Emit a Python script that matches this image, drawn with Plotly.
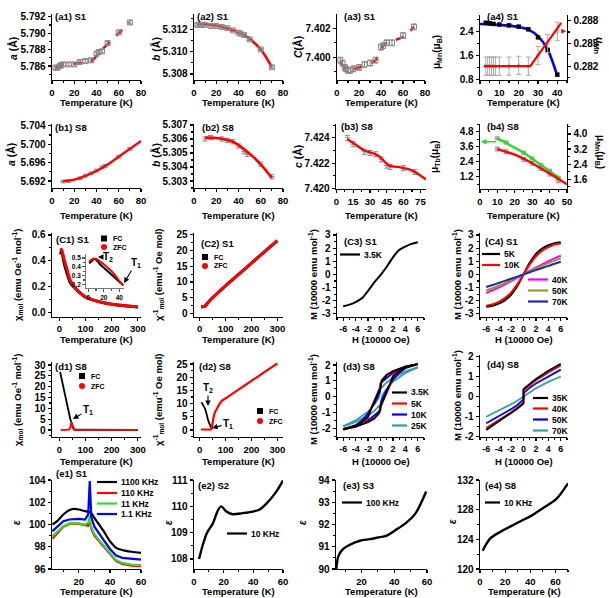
import plotly.graph_objects as go

W, H = 609, 598
FONT = "Liberation Sans"

# ================= DATA =================
# (a1) S1 lattice a
a1_T = [3, 5, 7, 8, 10, 15, 20, 25, 30, 35, 40, 42, 45, 50, 60, 70]
a1_val = [5.7858, 5.7858, 5.7860, 5.7861, 5.7862, 5.7862, 5.7862, 5.7865, 5.7866, 5.7867, 5.7875, 5.7877, 5.7878, 5.7888, 5.7901, 5.7913]
a1_err = [0.0002] * len(a1_T)
a1_fitT = [3, 10, 20, 35, 45, 60, 70]
a1_fit = [5.7858, 5.7861, 5.7863, 5.7866, 5.7880, 5.7900, 5.7913]

# (a2) S1 lattice b
a2_T = [3, 5, 7, 10, 15, 20, 25, 30, 35, 40, 42, 45, 50, 60, 70]
a2_val = [5.3124, 5.3124, 5.3124, 5.3124, 5.3123, 5.3123, 5.3122, 5.3121, 5.3119, 5.3117, 5.3116, 5.3115, 5.3111, 5.3102, 5.3086]
a2_err = [0.0001] * len(a2_T)
a2_fitT = [3, 15, 30, 45, 60, 70]
a2_fit = [5.3125, 5.3124, 5.3121, 5.3115, 5.3102, 5.3086]

# (a3) S1 lattice c
a3_T = [3, 5, 7, 8, 10, 12, 15, 20, 25, 30, 35, 40, 42, 45, 50, 60, 70]
a3_val = [7.3998, 7.3996, 7.3993, 7.3992, 7.3991, 7.3991, 7.3992, 7.3993, 7.3995, 7.3996, 7.3998, 7.4007, 7.4008, 7.4010, 7.4010, 7.4015, 7.4021]
a3_err = [0.0002] * len(a3_T)
a3_fitT = [3, 10, 20, 35, 40, 45, 60, 70]
a3_fit = [7.3997, 7.3991, 7.3993, 7.3998, 7.4006, 7.4010, 7.4014, 7.4021]

# (a4) S1 moments
a4_T = [3, 5, 7, 10, 15, 20, 25, 30, 35, 40]
a4_mu = [2.70, 2.68, 2.66, 2.64, 2.61, 2.57, 2.48, 2.21, 1.79, 0.96]
a4_fitT = [0, 10, 20, 25, 30, 35, 40]
a4_fit = [2.66, 2.63, 2.56, 2.47, 2.25, 1.80, 0.92]
a4_uT = [3, 4, 5, 6, 7, 8, 10, 15, 20, 25, 30, 35, 40]
a4_u = [0.2820, 0.2820, 0.2820, 0.2820, 0.2820, 0.2820, 0.2820, 0.2820, 0.2821, 0.2820, 0.2834, 0.2850, 0.2866]
a4_uerr = [0.0012] * len(a4_uT)
a4_ufitT = [2, 26, 42]
a4_ufit = [0.2820, 0.2820, 0.2877]

# (b1) S8 lattice a
b1_T = [10, 15, 25, 30, 35, 40, 45, 48, 60, 70]
b1_val = [5.6919, 5.6920, 5.6926, 5.6932, 5.6937, 5.6943, 5.6950, 5.6953, 5.6973, 5.6990]
b1_err = [0.0003] * len(b1_T)
b1_fitT = [10, 20, 40, 50, 60, 70, 80]
b1_fit = [5.6920, 5.6923, 5.6942, 5.6956, 5.6973, 5.6990, 5.7007]

# (b2) S8 lattice b
b2_T = [10, 15, 25, 30, 35, 40, 45, 48, 60, 70]
b2_val = [5.3060, 5.3061, 5.3060, 5.3059, 5.3058, 5.3055, 5.3051, 5.3049, 5.3042, 5.3033]
b2_err = [0.00015] * len(b2_T)
b2_fitT = [10, 20, 35, 50, 60, 70]
b2_fit = [5.30610, 5.30607, 5.30580, 5.30495, 5.30418, 5.30322]

# (b3) S8 lattice c
b3_T = [10, 15, 25, 30, 35, 40, 45, 48, 60, 70]
b3_val = [7.4240, 7.4235, 7.4229, 7.4228, 7.4227, 7.4223, 7.4218, 7.4217, 7.4216, 7.4213]
b3_err = [0.0002] * len(b3_T)
b3_fitT = [10, 20, 25, 35, 40, 47, 55, 65, 72, 80]
b3_fit = [7.4239, 7.4233, 7.4230, 7.4227, 7.4224, 7.4218, 7.4217, 7.4215, 7.4212, 7.4207]

# (b4) S8 moments
b4_T = [10, 15, 25, 30, 35, 40, 45]
b4_green = [4.27, 3.95, 3.12, 2.67, 2.13, 1.68, 1.12]
b4_red = [3.20, 3.06, 2.65, 2.44, 2.17, 1.87, 1.51]
b4_gfitT = [10, 25, 35, 46]
b4_gfit = [4.27, 3.14, 2.15, 1.07]
b4_rfitT = [10, 20, 30, 40, 50]
b4_rfit = [3.20, 2.90, 2.45, 1.90, 1.33]

# (C1) S1 chi
c1_T = [5, 8, 10, 15, 20, 30, 40, 50, 60, 80, 100, 125, 150, 200, 250, 300]
c1_zfc = [0.48, 0.49, 0.48, 0.44, 0.40, 0.33, 0.26, 0.22, 0.19, 0.15, 0.12, 0.10, 0.085, 0.065, 0.053, 0.044]
c1_fc = [0.45, 0.48, 0.47, 0.42, 0.37, 0.30, 0.24, 0.21, 0.19, 0.15, 0.12, 0.10, 0.085, 0.065, 0.053, 0.044]
c1in_T = [1, 4, 8, 12, 16, 20, 25, 30, 35, 40, 45]
c1in_zfc = [0.46, 0.48, 0.495, 0.48, 0.455, 0.43, 0.39, 0.35, 0.30, 0.24, 0.19]
c1in_fc = [0.44, 0.46, 0.49, 0.46, 0.42, 0.39, 0.35, 0.31, 0.27, 0.23, 0.19]

# (C2) S1 inverse chi
c2_T = [5, 10, 15, 20, 25, 30, 40, 50, 75, 100, 150, 200, 250, 300]
c2_zfc = [2.1, 2.1, 2.15, 2.3, 2.7, 3.2, 4.2, 5.0, 6.9, 8.8, 12.4, 16.0, 19.6, 23.2]
c2_fc = [2.1, 2.1, 2.15, 2.3, 2.7, 3.2, 4.2, 5.0, 6.9, 8.8, 12.4, 16.0, 19.6, 23.2]

# (C3) S1 M(H) 3.5K
c3_H = [-6, -5, -4, -3, -2, -1, 0, 1, 2, 3, 4, 5, 6]
c3_M = [-2.42, -2.3, -2.1, -1.82, -1.25, -0.6, -0.05, 0.58, 1.3, 1.85, 2.12, 2.32, 2.44]

# (C4) S1 M(H)
c4_H = [-6, -5, -4, -3, -2, -1, 0, 1, 2, 3, 4, 5, 6]
c4_5K = [-2.45, -2.38, -2.22, -1.97, -1.55, -0.88, 0.0, 0.88, 1.55, 1.97, 2.22, 2.38, 2.45]
c4_10K = [-2.38, -2.28, -2.08, -1.8, -1.38, -0.76, 0.0, 0.76, 1.38, 1.8, 2.08, 2.28, 2.36]
c4_40K = [-1.42, -1.22, -1.0, -0.77, -0.53, -0.27, 0.0, 0.27, 0.53, 0.77, 1.0, 1.22, 1.42]
c4_50K = [-1.22, -1.05, -0.86, -0.66, -0.45, -0.23, 0.0, 0.23, 0.45, 0.66, 0.86, 1.05, 1.22]
c4_70K = [-0.96, -0.81, -0.65, -0.49, -0.33, -0.17, 0.0, 0.17, 0.33, 0.49, 0.65, 0.81, 0.96]

# (d1) S8 chi
d1_fcT = [3, 15, 25, 35, 42, 47, 52, 56, 60, 100, 200, 300]
d1_fc = [26.8, 20.0, 14.2, 8.5, 5.0, 3.4, 1.2, 0.3, 0.15, 0.1, 0.1, 0.1]
d1_zfcT = [5, 20, 35, 40, 43, 46, 49, 52, 56, 60, 100, 200, 300]
d1_zfc = [0.1, 0.1, 0.2, 0.6, 2.0, 3.6, 2.2, 0.8, 0.3, 0.15, 0.1, 0.1, 0.1]

# (d2) S8 inverse chi
d2_fcT = [7, 12, 20, 26, 33, 40, 46]
d2_fc = [10.5, 9.6, 8.2, 6.3, 3.6, 1.8, 0.6]
d2_zfcT = [5, 20, 35, 45, 48, 52, 56, 60, 65, 75, 85, 100, 150, 200, 250, 300]
d2_zfc = [0.2, 0.2, 0.2, 0.3, 1.5, 4.0, 5.8, 6.9, 7.8, 9.6, 11.0, 12.0, 15.3, 18.6, 21.9, 25.2]

# (d3) S8 hysteresis loops (descending / ascending branches)
d3_Hd = [6, 4, 2, 1, 0.2, 0, -0.5, -1, -1.5, -2, -3, -4, -6]
d3_Ha = [-6, -4, -2, -1, -0.2, 0, 0.5, 1, 1.5, 2, 3, 4, 6]
d3_35d = [2.05, 1.9, 1.6, 1.35, 1.0, 0.55, 0.15, -0.3, -0.85, -1.25, -1.6, -1.85, -2.05]
d3_35a = [-2.05, -1.9, -1.6, -1.35, -1.0, -0.55, -0.15, 0.3, 0.85, 1.25, 1.6, 1.85, 2.05]
d3_5d = [2.05, 1.9, 1.62, 1.4, 1.05, 0.7, 0.2, -0.2, -0.7, -1.35, -1.68, -1.9, -2.08]
d3_5a = [-2.08, -1.9, -1.62, -1.4, -1.05, -0.7, -0.2, 0.2, 0.7, 1.35, 1.68, 1.9, 2.05]
d3_10Hd = [6, 4, 2, 1, 0.3, 0, -0.1, -0.5, -1, -2, -3, -4, -6]
d3_10Ha = [-6, -4, -2, -1, -0.3, 0, 0.1, 0.5, 1, 2, 3, 4, 6]
d3_10d = [2.05, 1.85, 1.5, 1.2, 0.95, 0.85, 0.3, 0.0, -0.45, -1.05, -1.5, -1.8, -2.05]
d3_10a = [-2.05, -1.85, -1.5, -1.2, -0.95, -0.85, -0.3, 0.0, 0.45, 1.05, 1.5, 1.8, 2.05]
d3_25Hd = [6, 4, 2, 1, 0.3, 0, -0.3, -1, -2, -4, -6]
d3_25Ha = [-6, -4, -2, -1, -0.3, 0, 0.3, 1, 2, 4, 6]
d3_25d = [1.85, 1.6, 1.2, 0.9, 0.62, 0.5, -0.1, -0.5, -0.95, -1.5, -1.88]
d3_25a = [-1.88, -1.6, -1.2, -0.9, -0.62, -0.5, 0.1, 0.5, 0.95, 1.5, 1.85]

# (d4) S8 M(H)
d4_H = [-6, -4, -2, -1, 0, 0, 1, 2, 4, 6]
d4_35K = [-1.68, -1.27, -0.86, -0.62, -0.36, 0.36, 0.62, 0.86, 1.27, 1.62]
d4_40K = [-1.58, -1.19, -0.8, -0.56, -0.3, 0.3, 0.56, 0.8, 1.19, 1.54]
d4_50K = [-1.34, -1.0, -0.64, -0.43, -0.15, 0.15, 0.43, 0.64, 1.0, 1.33]
d4_70K = [-1.02, -0.72, -0.4, -0.22, -0.02, 0.02, 0.22, 0.4, 0.72, 0.99]

# (e1) S1 permittivity
e1_T = [3, 6, 10, 14, 17, 20, 24, 26, 27, 28, 30, 33, 36, 40, 44, 48, 54, 60]
e1_1100 = [100.0, 100.3, 100.9, 101.3, 101.4, 101.35, 101.2, 101.15, 101.1, 101.0, 100.6, 100.0, 99.4, 98.5, 97.9, 97.7, 97.55, 97.45]
e1_110 = [98.75, 99.2, 99.8, 100.05, 100.1, 100.05, 99.95, 99.9, 100.5, 99.6, 99.0, 98.5, 98.0, 97.3, 96.7, 96.45, 96.3, 96.25]
e1_11 = [98.95, 99.35, 99.85, 100.1, 100.15, 100.1, 100.0, 100.15, 100.8, 99.75, 99.15, 98.6, 98.1, 97.4, 96.8, 96.55, 96.4, 96.35]
e1_1p1 = [99.4, 99.8, 100.3, 100.45, 100.5, 100.5, 100.45, 100.9, 103.9, 100.7, 99.8, 99.25, 98.6, 97.8, 97.2, 97.0, 96.9, 96.85]

# (e2) S2
e2_T = [3.4, 6, 8.8, 12.8, 16.2, 18.4, 21.8, 26, 32.8, 39.6, 44, 48.8, 55.5, 60]
e2_eps = [108.0, 108.55, 109.0, 109.36, 109.86, 110.0, 109.8, 109.7, 109.74, 109.8, 109.87, 110.1, 110.56, 110.98]

# (e3) S3
e3_T = [4.6, 5.8, 8.8, 12.9, 19, 25, 31, 35, 41, 47, 53, 59.5]
e3_eps = [90.0, 90.57, 90.9, 91.09, 91.27, 91.34, 91.43, 91.49, 91.76, 92.06, 92.5, 93.48]

# (e4) S8
e4_T = [2.1, 8, 16, 29, 42, 50, 61, 70]
e4_eps = [122.47, 124.1, 125.0, 126.16, 127.3, 128.2, 129.5, 131.55]

# tick labels with plain hyphen minus
H_tickvals = [-6, -4, -2, 0, 2, 4, 6]
H_ticktext = ["-6", "-4", "-2", "0", "2", "4", "6"]
M3_tickvals = [-3, -2, -1, 0, 1, 2, 3]
M3_ticktext = ["-3", "-2", "-1", "0", "1", "2", "3"]
M2_tickvals = [-2, -1, 0, 1, 2]
M2_ticktext = ["-2", "-1", "0", "1", "2"]

# ================= FIGURE =================
fig = go.Figure()
layout_axes = {}
annotations = []
shapes = []

BLACK = "black"
RED = "#ff0000"
GRAY = "#888888"
BLUE = "#0000ff"
GREEN = "#22dd22"
MAGENTA = "#ff00ff"
OLIVE = "#999922"
NAVY = "#2424b0"
TEAL = "#339e9e"


def px(x):
    return x / W


def py(y):
    return 1 - y / H


def tf(size=10):
    return dict(family=FONT, size=size, color="black", weight="bold")


def add_axes(n, xbox, ybox, xr, yr, xdt, ydt, xt0=0, yt0=None, yfmt=None,
             xfmt=None, fs=10, xfs=9.5, lw=1.4, lc="black", xticks=None, yticks=None):
    xk = "xaxis" if n == 1 else f"xaxis{n}"
    yk = "yaxis" if n == 1 else f"yaxis{n}"
    common = dict(showline=True, linecolor=lc, linewidth=lw, ticks="outside",
                  ticklen=3, tickwidth=1.2, tickcolor=lc, showgrid=False,
                  zeroline=False, mirror=False, automargin=False, tickangle=0)
    xa = dict(common, domain=[px(xbox[0]), px(xbox[1])], range=xr, dtick=xdt,
              tick0=xt0, anchor="y" if n == 1 else f"y{n}",
              tickfont=tf(xfs),
              minor=dict(ticks="outside", ticklen=2, tickcolor=lc, dtick=xdt / 2,
                         tick0=xt0, showgrid=False))
    if xticks:
        xa.update(tickmode="array", tickvals=xticks[0], ticktext=xticks[1])
    if xfmt:
        xa["tickformat"] = xfmt
    ya = dict(common, domain=[py(ybox[1]), py(ybox[0])], range=yr, dtick=ydt,
              anchor="x" if n == 1 else f"x{n}", tickfont=tf(fs),
              minor=dict(ticks="outside", ticklen=2, tickcolor=lc, dtick=ydt / 2,
                         showgrid=False))
    if yt0 is not None:
        ya["tick0"] = yt0
        ya["minor"]["tick0"] = yt0
    if yticks:
        ya.update(tickmode="array", tickvals=yticks[0], ticktext=yticks[1])
    if yfmt:
        ya["tickformat"] = yfmt
    layout_axes[xk] = xa
    layout_axes[yk] = ya
    return ("x" if n == 1 else f"x{n}"), ("y" if n == 1 else f"y{n}")


def add_right_axis(n, base_n, yr, ydt, yt0, yfmt=None):
    yk = f"yaxis{n}"
    layout_axes[yk] = dict(showline=True, linecolor="black", linewidth=1.4,
                           ticks="outside", ticklen=3, tickwidth=1.2,
                           tickcolor="black", showgrid=False, zeroline=False,
                           automargin=False,
                           tickfont=tf(10), side="right",
                           overlaying="y" if base_n == 1 else f"y{base_n}",
                           anchor="x" if base_n == 1 else f"x{base_n}",
                           range=yr, dtick=ydt, tick0=yt0,
                           tickformat=yfmt,
                           minor=dict(ticks="outside", ticklen=2, tickcolor="black",
                                      dtick=ydt / 2, tick0=yt0, showgrid=False))
    return f"y{n}"


def line(xa, ya, x, y, color, width=2.2, dash="solid", shape="spline"):
    fig.add_trace(go.Scatter(x=x, y=y, xaxis=xa, yaxis=ya, mode="lines",
                             line=dict(color=color, width=width, dash=dash,
                                       shape=shape, smoothing=0.8),
                             showlegend=False, hoverinfo="skip"))


def errpts(xa, ya, x, y, e, color=GRAY, symbol="square-open", size=5):
    fig.add_trace(go.Scatter(x=x, y=y, xaxis=xa, yaxis=ya, mode="markers",
                             marker=dict(symbol=symbol, size=size, color=color,
                                         line=dict(color=color, width=1)),
                             error_y=dict(type="data", array=e, color=color,
                                          thickness=1, width=2.5),
                             showlegend=False, hoverinfo="skip"))


def text(x, y, s, size=10, xanchor="left", angle=0, yanchor="middle"):
    annotations.append(dict(x=px(x), y=py(y), xref="paper", yref="paper", text=s,
                            showarrow=False, font=tf(size), xanchor=xanchor,
                            yanchor=yanchor, textangle=angle))


def ytitle(x, y, s, size=9.5, angle=-90):
    text(x, y, s, size=size, xanchor="center", angle=angle)


def xtitle(xbox, y, s, size=9.5):
    text((xbox[0] + xbox[1]) / 2, y, s, size=size, xanchor="center")


def leg_line(x0, x1, y, color, label, size=8, width=2.2):
    shapes.append(dict(type="line", xref="paper", yref="paper", x0=px(x0), x1=px(x1),
                       y0=py(y), y1=py(y), line=dict(color=color, width=width)))
    text(x1 + 1.5, y, label, size=size)


def leg_marker(x, y, kind, color, label, size=7):
    r = 3.0
    shapes.append(dict(type="rect" if kind == "sq" else "circle", xref="paper",
                       yref="paper", x0=px(x - r), x1=px(x + r), y0=py(y + r),
                       y1=py(y - r), fillcolor=color, line=dict(color=color, width=0)))
    text(x + 7, y, label, size=size)


def arrow(x, y, tx, ty, s, size=10):
    annotations.append(dict(x=px(x), y=py(y), xref="paper", yref="paper",
                            ax=tx - x, ay=ty - y, text=s, showarrow=True,
                            arrowhead=2, arrowsize=1, arrowwidth=1.1,
                            arrowcolor="black", font=tf(size)))


TT = "Temperature (K)"
HH = "H (10000 Oe)"
MM = "M (10000 emu mol<sup>-1</sup>)"
PL = 9.5  # panel label size
HX = (H_tickvals, H_ticktext)
RA, RB, RC, RD, RE = 102.5, 215.5, 339.5, 461, 591  # x-title rows

# ---------- row a ----------
A1 = ((52, 141), (14, 80))
xa, ya = add_axes(1, *A1, [0, 80], [5.7843, 5.79233], 20, 0.002, yt0=5.786, yfmt=".3f")
line(xa, ya, a1_fitT, a1_fit, RED, 2.6, "dash")
errpts(xa, ya, a1_T, a1_val, a1_err)
text(53, 17, "(a1) S1", PL)
xtitle(A1[0], RA, TT)
ytitle(13, 49, "<i>a</i> (Å)", 10.5)

A2 = ((194, 283), (14, 80))
xa, ya = add_axes(2, *A2, [0, 80], [5.30746, 5.31337], 20, 0.002, yt0=5.308, yfmt=".3f")
line(xa, ya, a2_fitT, a2_fit, RED, 2.6)
errpts(xa, ya, a2_T, a2_val, a2_err)
text(195, 17, "(a2) S1", PL)
xtitle(A2[0], RA, TT)
ytitle(156, 49, "<i>b</i> (Å)", 10.5)

A3 = ((337, 425), (14, 80))
xa, ya = add_axes(3, *A3, [0, 80], [7.39843, 7.40299], 20, 0.002, yt0=7.400, yfmt=".3f")
line(xa, ya, a3_fitT, a3_fit, RED, 2.6, "dash")
errpts(xa, ya, a3_T, a3_val, a3_err)
text(342, 17, "(a3) S1", PL)
xtitle(A3[0], RA, TT)
ytitle(298, 47, "<i>C</i>(Å)", 10.5)

A4 = ((480, 567), (15, 80))
xa, ya = add_axes(4, *A4, [0, 45], [0.78, 2.96], 10, 0.8, yt0=0.8, yfmt=".1f")
ya2 = add_right_axis(21, 4, [0.28018, 0.28874], 0.003, 0.282, ".3f")
line(xa, ya, a4_fitT, a4_fit, BLUE, 2.6)
fig.add_trace(go.Scatter(x=a4_T, y=a4_mu, xaxis=xa, yaxis=ya, mode="markers",
                         marker=dict(symbol="square", size=4.5, color="black"),
                         showlegend=False, hoverinfo="skip"))
errpts(xa, ya2, a4_uT, a4_u, a4_uerr, color="#aaaaaa", symbol="circle-open", size=3)
line(xa, ya2, a4_ufitT, a4_ufit, RED, 2.2, shape="linear")
annotations.append(dict(x=44.5, y=0.2866, xref=xa, yref=ya2, ax=41.5, ay=0.2866,
                        axref=xa, ayref=ya2, showarrow=True, arrowhead=2,
                        arrowsize=0.8, arrowwidth=1.2, arrowcolor=RED, text=""))
text(485, 17, "(a4) S1", PL)
xtitle(A4[0], RA, TT)
ytitle(437, 52, "μ<sub>Mn</sub>(μ<sub>B</sub>)", 10)
ytitle(599, 46, "<i>u</i><sub>Mn</sub>", 10.5, angle=90)

# ---------- row b ----------
B1 = ((52, 141), (124, 188))
xa, ya = add_axes(5, *B1, [0, 80], [5.6905, 5.7044], 20, 0.004, yt0=5.692, yfmt=".3f")
errpts(xa, ya, b1_T, b1_val, b1_err, symbol="line-ew-open", size=4)
line(xa, ya, b1_fitT, b1_fit, RED, 2.4)
text(53, 128, "(b1) S8", PL)
xtitle(B1[0], RB, TT)
ytitle(11, 155, "<i>a</i> (Å)", 10.5)

B2 = ((194, 283), (124, 188))
xa, ya = add_axes(6, *B2, [0, 80], [5.3025, 5.30707], 20, 0.001, yt0=5.303, yfmt=".3f")
errpts(xa, ya, b2_T, b2_val, b2_err, symbol="line-ew-open", size=4)
line(xa, ya, b2_fitT, b2_fit, RED, 2.6)
text(200, 128, "(b2) S8", PL)
xtitle(B2[0], RB, TT)
ytitle(156, 155, "<i>b</i> (Å)", 10.5)

B3 = ((336, 426), (124, 189))
xa, ya = add_axes(7, *B3, [-0.3, 80], [7.41995, 7.4251], 15, 0.002, yt0=7.420, yfmt=".3f")
errpts(xa, ya, b3_T, b3_val, b3_err, symbol="line-ew-open", size=4)
line(xa, ya, b3_fitT, b3_fit, RED, 2.4)
text(339, 127, "(b3) S8", PL)
xtitle(B3[0], RB, TT)
ytitle(298, 157, "<i>c</i> (Å)", 10.5)

B4 = ((480, 567), (124, 189))
xa, ya = add_axes(8, *B4, [0, 50], [0.22, 5.42], 10, 1.2, yt0=1.2, yfmt=".1f")
ya2 = add_right_axis(22, 8, [1.08, 4.53], 0.8, 1.6, ".1f")
errpts(xa, ya, b4_T, b4_green, [0.12] * len(b4_T), symbol="line-ew-open", size=4)
line(xa, ya, b4_gfitT, b4_gfit, GREEN, 2.4, shape="linear")
errpts(xa, ya2, b4_T, b4_red, [0.1] * len(b4_T), symbol="line-ew-open", size=4)
line(xa, ya2, b4_rfitT, b4_rfit, RED, 2.4)
annotations.append(dict(x=0.5, y=4.0, xref=xa, yref=ya, ax=10, ay=4.0,
                        axref=xa, ayref=ya, showarrow=True, arrowhead=2,
                        arrowsize=0.8, arrowwidth=1.4, arrowcolor=GREEN, text=""))
text(485, 127, "(b4) S8", PL)
xtitle(B4[0], RB, TT)
ytitle(435, 157, "μ<sub>Tb</sub>(μ<sub>B</sub>)", 10)
ytitle(600, 152, "μ<sub>Mn</sub>(μ<sub>B</sub>)", 10, angle=90)

# ---------- row c ----------
C1 = ((52, 141), (233, 316.5))
xa, ya = add_axes(9, *C1, [-28, 312], [-0.03, 0.615], 100, 0.2, yfmt=".1f")
line(xa, ya, c1_T, c1_fc, BLACK, 3)
line(xa, ya, c1_T, c1_zfc, RED, 3)
text(54, 240, "(C1) S1", PL)
leg_marker(104, 238.5, "sq", BLACK, "FC")
leg_marker(104, 247, "ci", RED, "ZFC")
xtitle(C1[0], RC, TT)
ytitle(17, 275, "χ<sub>mol</sub> (emu Oe<sup>-1</sup> mol<sup>-1</sup>)", 9.5)
# inset
xi, yi = add_axes(23, (86, 124), (254, 288), [-3, 46], [0.16, 0.545], 20, 0.1,
                  yt0=0.2, yfmt=".1f", fs=6.5, xfs=6.5, lw=0.8, lc="#555555")
line(xi, yi, c1in_T, c1in_fc, BLACK, 2)
line(xi, yi, c1in_T, c1in_zfc, RED, 2)
arrow(98, 257, 108, 257, "T<sub>2</sub>", 10)
arrow(124, 283, 136, 263, "T<sub>1</sub>", 10)

C2 = ((194, 283), (233, 316.5))
xa, ya = add_axes(10, *C2, [-22, 322], [-1.0, 25.6], 100, 5)
line(xa, ya, c2_T, c2_fc, BLACK, 3)
line(xa, ya, c2_T, c2_zfc, RED, 3)
text(199, 243, "(C2) S1", PL)
leg_marker(205, 257, "sq", BLACK, "FC")
leg_marker(205, 266, "ci", RED, "ZFC")
xtitle(C2[0], RC, TT)
ytitle(158, 275, "χ<sup>-1</sup><sub>mol</sub> (emu<sup>-1</sup> Oe mol)", 9.5)

C3 = ((337, 424), (233, 316.5))
xa, ya = add_axes(11, *C3, [-7, 7], [-3.2, 3.15], 2, 1, xt0=0, xfs=9,
                  xticks=HX, yticks=(M3_tickvals, M3_ticktext))
line(xa, ya, c3_H, c3_M, BLACK, 2)
text(342, 241, "(C3) S1", PL)
leg_line(340, 360, 254.5, BLACK, "3.5K", 8.5)
xtitle(C3[0], RC, HH)
ytitle(313, 275, MM, 9.5)

C4 = ((480, 567), (233, 316.5))
xa, ya = add_axes(12, *C4, [-7, 7], [-3.2, 3.15], 2, 1, xt0=0, xfs=9,
                  xticks=HX, yticks=(M3_tickvals, M3_ticktext))
line(xa, ya, c4_H, c4_5K, BLACK, 2)
line(xa, ya, c4_H, c4_10K, RED, 2)
line(xa, ya, c4_H, c4_40K, MAGENTA, 2)
line(xa, ya, c4_H, c4_50K, OLIVE, 2)
line(xa, ya, c4_H, c4_70K, NAVY, 2)
text(483, 241, "(C4) S1", PL)
leg_line(482, 500, 254, BLACK, "5K", 8.5)
leg_line(482, 500, 265, RED, "10K", 8.5)
leg_line(528, 548, 279.5, MAGENTA, "40K", 8.5)
leg_line(528, 548, 290.5, OLIVE, "50K", 8.5)
leg_line(528, 548, 301.5, NAVY, "70K", 8.5)
xtitle(C4[0], RC, HH)
ytitle(457, 275, MM, 9.5)

# ---------- row d ----------
D1 = ((52, 141), (362, 437))
xa, ya = add_axes(13, *D1, [-28, 312], [-3.2, 31.4], 100, 5)
line(xa, ya, d1_fcT, d1_fc, BLACK, 1.8, shape="linear")
line(xa, ya, d1_zfcT, d1_zfc, RED, 1.8)
text(53, 366, "(d1) S8", PL)
leg_marker(82, 376, "sq", BLACK, "FC")
leg_marker(82, 386, "ci", RED, "ZFC")
arrow(73, 419, 88, 410, "T<sub>1</sub>", 10)
xtitle(D1[0], RD, TT)
ytitle(17, 400, "χ<sub>mol</sub> (emu Oe<sup>-1</sup> mol<sup>-1</sup>)", 9.5)

D2 = ((194, 283), (362, 437))
xa, ya = add_axes(14, *D2, [-22, 322], [-2.65, 25.76], 100, 5)
line(xa, ya, d2_fcT, d2_fc, BLACK, 1.8)
line(xa, ya, d2_zfcT, d2_zfc, RED, 2.2)
text(197, 366, "(d2) S8", PL)
leg_marker(260, 411, "sq", BLACK, "FC")
leg_marker(260, 421, "ci", RED, "ZFC")
arrow(208, 406, 208, 388, "T<sub>2</sub>", 10)
arrow(212, 428, 228, 424, "T<sub>1</sub>", 10)
xtitle(D2[0], RD, TT)
ytitle(158, 400, "χ<sup>-1</sup><sub>mol</sub> (emu<sup>-1</sup> Oe mol)", 9.5)

D3 = ((337, 424), (362, 437))
xa, ya = add_axes(15, *D3, [-7, 7], [-2.55, 2.19], 2, 1, xt0=0, xfs=9,
                  xticks=HX, yticks=(M2_tickvals, M2_ticktext))
line(xa, ya, d3_25Hd, d3_25d, TEAL, 1.8, shape="linear")
line(xa, ya, d3_25Ha, d3_25a, TEAL, 1.8, shape="linear")
line(xa, ya, d3_10Hd, d3_10d, BLUE, 1.8, shape="linear")
line(xa, ya, d3_10Ha, d3_10a, BLUE, 1.8, shape="linear")
line(xa, ya, d3_Hd, d3_5d, RED, 1.8, shape="linear")
line(xa, ya, d3_Ha, d3_5a, RED, 1.8, shape="linear")
line(xa, ya, d3_Hd, d3_35d, BLACK, 1.8, shape="linear")
line(xa, ya, d3_Ha, d3_35a, BLACK, 1.8, shape="linear")
text(341, 366, "(d3) S8", PL)
leg_line(392, 407, 392.5, BLACK, "3.5K", 8.5)
leg_line(392, 407, 403.5, RED, "5K", 8.5)
leg_line(392, 407, 414.5, BLUE, "10K", 8.5)
leg_line(392, 407, 425.5, TEAL, "25K", 8.5)
xtitle(D3[0], RD, HH)
ytitle(313, 400, MM, 9.5)

D4 = ((480, 567), (355, 437))
xa, ya = add_axes(16, *D4, [-7, 7], [-2.03, 2.06], 2, 1, xt0=0, xfs=9,
                  xticks=HX, yticks=(M2_tickvals, M2_ticktext))
line(xa, ya, d4_H, d4_70K, TEAL, 1.8, shape="linear")
line(xa, ya, d4_H, d4_50K, BLUE, 1.8, shape="linear")
line(xa, ya, d4_H, d4_40K, RED, 1.8, shape="linear")
line(xa, ya, d4_H, d4_35K, BLACK, 1.8, shape="linear")
text(485, 364, "(d4) S8", PL)
leg_line(533, 548, 398, BLACK, "35K", 8.5)
leg_line(533, 548, 408.5, RED, "40K", 8.5)
leg_line(533, 548, 419.5, BLUE, "50K", 8.5)
leg_line(533, 548, 430.5, TEAL, "70K", 8.5)
xtitle(D4[0], RD, HH)
ytitle(457, 396, MM, 9.5)

# ---------- row e ----------
E1 = ((52, 141), (480, 569))
xa, ya = add_axes(17, *E1, [2.7, 60], [96, 104], 20, 2, yt0=96)
line(xa, ya, e1_T, e1_1100, BLACK, 2.2)
line(xa, ya, e1_T, e1_110, RED, 2.2, shape="linear")
line(xa, ya, e1_T, e1_11, "#33dd33", 2.2, shape="linear")
line(xa, ya, e1_T, e1_1p1, BLUE, 2.2, shape="linear")
text(54, 473, "(e1) S1", PL)
leg_line(97, 117, 482, BLACK, "1100 KHz", 8.5)
leg_line(97, 117, 493, RED, "110 KHz", 8.5)
leg_line(97, 117, 503.5, "#33dd33", "11 KHz", 8.5)
leg_line(97, 117, 514, BLUE, "1.1 KHz", 8.5)
xtitle(E1[0], RE, TT)
ytitle(16, 523, "<i>ε</i>", 10)

E2 = ((194, 283), (480, 569))
xa, ya = add_axes(18, *E2, [0, 60], [107.62, 111], 20, 1, yt0=108)
line(xa, ya, e2_T, e2_eps, BLACK, 2.4)
text(196, 485, "(e2) S2", PL)
leg_line(227, 247, 533.5, BLACK, "10 KHz", 8.5)
xtitle(E2[0], RE, TT)
ytitle(168, 523, "<i>ε</i>", 10)

E3 = ((336, 427), (480, 569))
xa, ya = add_axes(19, *E3, [4.4, 60], [90, 94], 20, 1, yt0=90)
line(xa, ya, e3_T, e3_eps, BLACK, 2.4)
text(341, 485, "(e3) S3", PL)
leg_line(342, 362, 502.5, BLACK, "100 KHz", 8.5)
xtitle(E3[0], RE, TT)
ytitle(302, 523, "<i>ε</i>", 10)

E4 = ((480, 568), (480, 569))
xa, ya = add_axes(20, *E4, [0, 70], [120, 132], 20, 4, yt0=120)
line(xa, ya, e4_T, e4_eps, BLACK, 2.4)
text(483, 485, "(e4) S8", PL)
leg_line(485, 500, 502.5, BLACK, "10 KHz", 8.5)
xtitle(E4[0], RE, TT)
ytitle(452, 522, "<i>ε</i>", 10)

fig.update_layout(template="none", width=W, height=H,
                  margin=dict(l=0, r=0, t=0, b=0, pad=0, autoexpand=False),
                  paper_bgcolor="white", plot_bgcolor="rgba(0,0,0,0)",
                  showlegend=False, annotations=annotations, shapes=shapes,
                  hovermode=False,
                  font=dict(family=FONT, color="black"), **layout_axes)
fig.write_html("out.html", config={"displayModeBar": False, "staticPlot": True},
               post_script="document.body.style.margin='0';document.body.style.padding='0';")
